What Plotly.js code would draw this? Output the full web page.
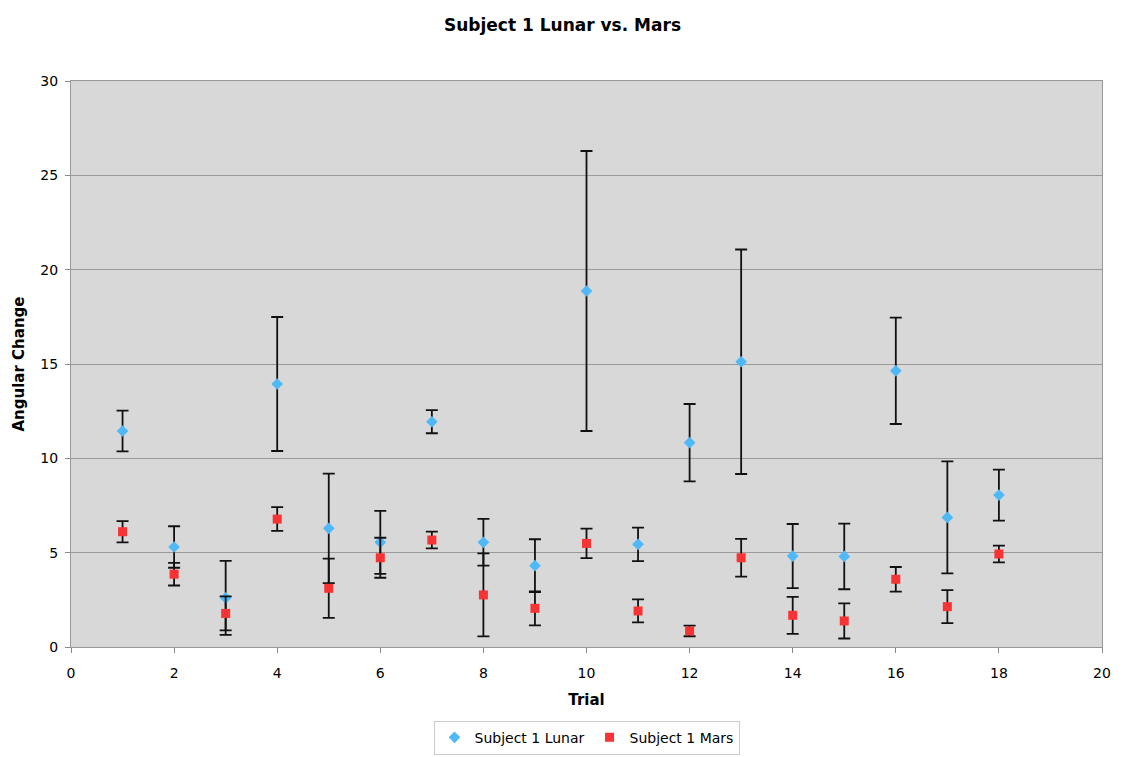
<!DOCTYPE html>
<html>
<head>
<meta charset="utf-8">
<script src="https://cdn.plot.ly/plotly-3.0.1.min.js"></script>
<style>html,body{margin:0;padding:0;background:#fff;}#chart{width:1125px;height:757px;}</style>
</head>
<body>
<div id="chart"></div>
<script>
const trials = [1,2,3,4,5,6,7,8,9,10,11,12,13,14,15,16,17,18];
const lunar = [11.45, 5.3, 2.6, 13.94, 6.29, 5.55, 11.94, 5.55, 4.31, 18.87, 5.44, 10.83, 15.12, 4.82, 4.8, 14.64, 6.87, 8.05];
const lunarErr = [1.08, 1.1, 1.96, 3.55, 2.9, 1.67, 0.61, 1.24, 1.4, 7.42, 0.89, 2.05, 5.95, 1.7, 1.74, 2.82, 2.97, 1.35];
const mars = [6.11, 3.86, 1.78, 6.78, 3.11, 4.73, 5.67, 2.76, 2.05, 5.49, 1.91, 0.85, 4.73, 1.68, 1.38, 3.59, 2.14, 4.93];
const marsErr = [0.56, 0.6, 0.9, 0.63, 1.57, 1.06, 0.44, 2.2, 0.9, 0.78, 0.61, 0.28, 1.0, 0.98, 0.93, 0.65, 0.87, 0.44];
const xTicks = [0,2,4,6,8,10,12,14,16,18,20];
const yTicks = [0,5,10,15,20,25,30];

const font = "Verdana, 'DejaVu Sans', sans-serif";
const errStyle = {type:'data', visible:true, color:'#111', thickness:1.8, width:6};

const traces = [
  {x: trials, y: lunar, name: 'Subject 1 Lunar', type:'scatter', mode:'markers',
   marker:{symbol:'diamond', size:9, color:'#4fb8f7'},
   error_y: Object.assign({array: lunarErr}, errStyle)},
  {x: trials, y: mars, name: 'Subject 1 Mars', type:'scatter', mode:'markers',
   marker:{symbol:'square', size:9, color:'#f83333'},
   error_y: Object.assign({array: marsErr}, errStyle)}
];

const layout = {
  width:1125, height:757,
  margin:{l:71, r:23, t:81, b:110, autoexpand:false},
  paper_bgcolor:'#ffffff', plot_bgcolor:'#d8d8d8',
  font:{family:font, size:14, color:'#000'},
  title:{text:'<b>Subject 1 Lunar vs. Mars</b>', x:0.5, xanchor:'center', y:0.975, yanchor:'top', font:{family:font, size:17}},
  xaxis:{range:[0,20], tickvals:xTicks, ticktext:xTicks.map(String), ticks:'outside', ticklen:5, tickcolor:'#888',
         ticklabelstandoff:8,
         showgrid:false, zeroline:false, showline:true, linecolor:'#999', linewidth:1, mirror:true,
         title:{text:'<b>Trial</b>', font:{family:font, size:15}, standoff:14}, tickfont:{size:14}},
  yaxis:{range:[0,30], tickvals:yTicks, ticktext:yTicks.map(String), ticks:'outside', ticklen:5, tickcolor:'#888',
         ticklabelstandoff:4,
         showgrid:true, gridcolor:'#9a9a9a', gridwidth:1, zeroline:false, showline:true, linecolor:'#999', linewidth:1, mirror:true,
         title:{text:'<b>Angular Change</b>', font:{family:font, size:15}, standoff:12}, tickfont:{size:14}},
  showlegend:true,
  legend:{orientation:'h', x:0.5, xanchor:'center', yref:'container', y:0.003, yanchor:'bottom',
          bordercolor:'#cccccc', borderwidth:1, bgcolor:'#ffffff', font:{family:font, size:14}, itemwidth:30,
          tracegroupgap:0}
};

Plotly.newPlot('chart', traces, layout, {displayModeBar:false, staticPlot:true});
</script>
</body>
</html>
